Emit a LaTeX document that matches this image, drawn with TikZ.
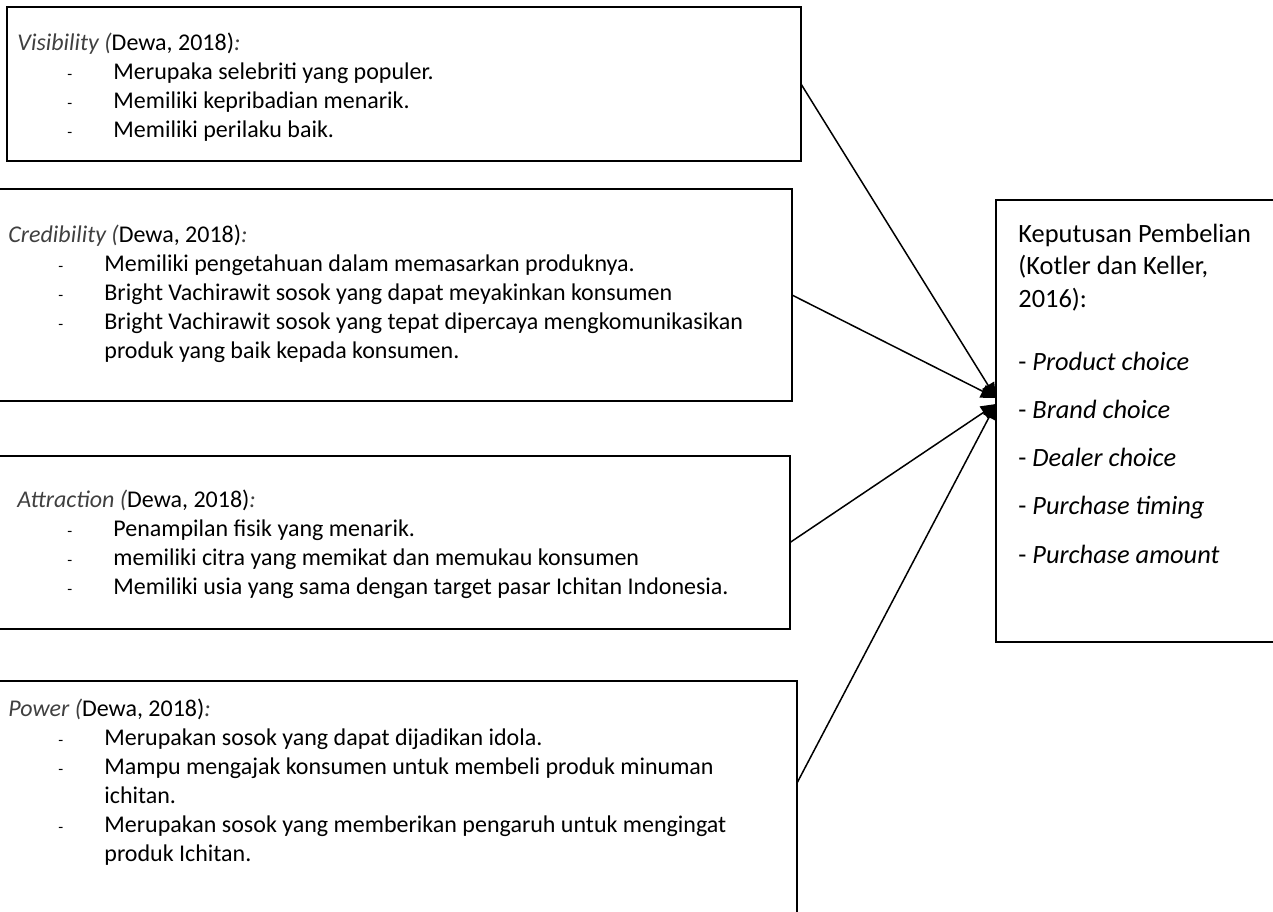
\documentclass[tikz,border=0pt]{standalone}
\usepackage{fontspec}
\setmainfont{Carlito}
\usetikzlibrary{arrows.meta}

\NewDocumentCommand{\butir}{O{25pt} O{48pt} m}{\hspace*{#1}\makebox[\dimexpr#2-#1\relax][l]{\fontsize{8}{8}\selectfont-}#3}
\NewDocumentCommand{\lanjut}{O{48pt} m}{\hspace*{#1}#2}
\newcommand{\judul}[1]{\textcolor{black!75}{\textit{#1 (}}Dewa, 2018)\textcolor{black!75}{\textit{:}}}

\begin{document}
\begin{tikzpicture}[x=0.5pt, y=-0.5pt,
    kotak/.style={draw, line width=1pt, inner sep=0pt, outer sep=0pt, anchor=north west},
    teks/.style={inner sep=0pt, anchor=base west, font=\fontsize{12}{14.5}\selectfont},
    panah/.style={-{Triangle[length=7.5pt,width=7pt]}, line width=0.75pt}]
    \useasboundingbox (0,0) rectangle (1273,911);
    \clip (0,0) rectangle (1273,911);

    \node [kotak, minimum width=397pt, minimum height=77pt] (x1) at (7,7) {};
    \node [kotak, minimum width=401pt, minimum height=106pt] (x2) at (-10,189) {};
    \node [kotak, minimum width=400pt, minimum height=86.5pt] (x3) at (-10,456) {};
    \node [kotak, minimum width=403.5pt, minimum height=124.5pt] (x4) at (-10,681) {};
    \node [kotak, minimum width=147pt, minimum height=221pt] (y) at (996,200) {};

    \node [teks] (x1t) at (17,50) {\parbox[t]{390pt}{\judul{Visibility}\\
        \butir{Merupaka selebriti yang populer.}\\
        \butir{Memiliki kepribadian menarik.}\\
        \butir{Memiliki perilaku baik.}}};
    \node [teks] (x2t) at (8,242) {\parbox[t]{390pt}{\judul{Credibility}\\
        \butir{Memiliki pengetahuan dalam memasarkan produknya.}\\
        \butir{Bright Vachirawit sosok yang dapat meyakinkan konsumen}\\
        \butir{Bright Vachirawit sosok yang tepat dipercaya mengkomunikasikan}\\
        \lanjut{produk yang baik kepada konsumen.}}};
    \node [teks] (x3t) at (17,507) {\parbox[t]{390pt}{\judul{Attraction}\\
        \butir{Penampilan fisik yang menarik.}\\
        \butir{memiliki citra yang memikat dan memukau konsumen}\\
        \butir{Memiliki usia yang sama dengan target pasar Ichitan Indonesia.}}};
    \node [teks] (x4t) at (8,716) {\parbox[t]{390pt}{\judul{Power}\\
        \butir{Merupakan sosok yang dapat dijadikan idola.}\\
        \butir{Mampu mengajak konsumen untuk membeli produk minuman}\\
        \lanjut{ichitan.}\\
        \butir{Merupakan sosok yang memberikan pengaruh untuk mengingat}\\
        \lanjut{produk Ichitan.}}};
    \node [teks, font=\fontsize{13.2}{16.25}\selectfont] (yt) at (1018,242) {\parbox[t]{140pt}{Keputusan Pembelian\\
        (Kotler dan Keller,\\
        2016):\\[15.25pt]
        - \textit{Product choice}\\[7.9pt]
        - \textit{Brand choice}\\[7.9pt]
        - \textit{Dealer choice}\\[7.9pt]
        - \textit{Purchase timing}\\[7.9pt]
        - \textit{Purchase amount}}};

    \draw [panah] (x1.east) -- ([yshift=11.5pt]y.west);
    \draw [panah] (x2.east) -- ([yshift=11.5pt]y.west);
    \draw [panah] (x3.east) -- ([yshift=8.5pt]y.west);
    \draw [panah] ([yshift=11.25pt]x4.east) -- ([yshift=8.5pt]y.west);
\end{tikzpicture}
\end{document}
